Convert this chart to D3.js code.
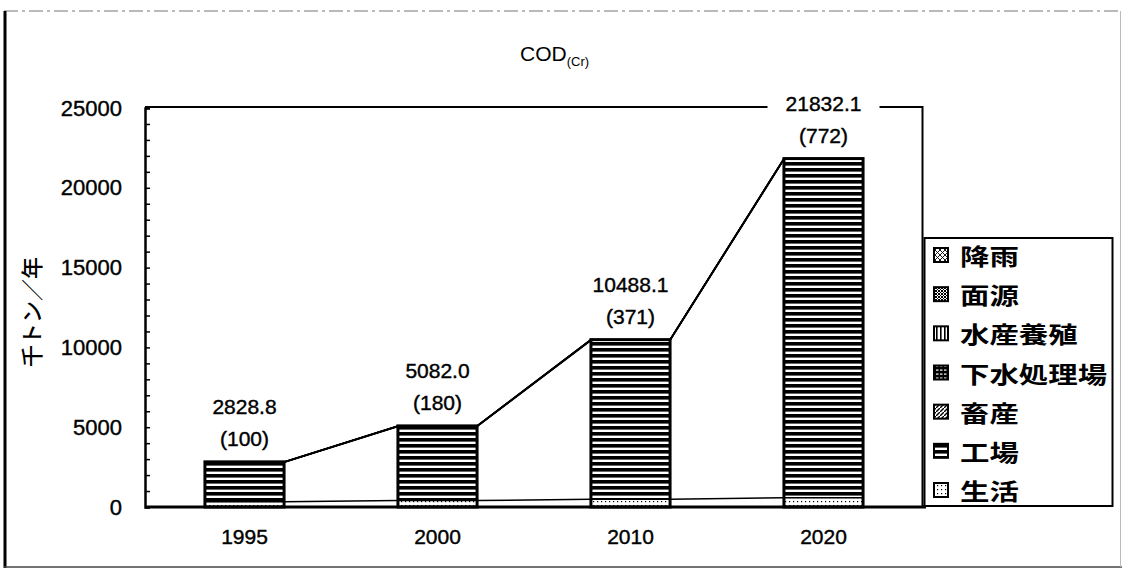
<!DOCTYPE html>
<html><head><meta charset="utf-8">
<script src="https://cdn.jsdelivr.net/npm/d3@7"></script>
<style>
html,body{margin:0;padding:0;background:#fff;}
svg{display:block;}
</style></head>
<body>
<svg id="c" width="1122" height="578"></svg>
<script>
// ---- data ----
const years = ["1995", "2000", "2010", "2020"];
const totals = [2828.8, 5082.0, 10488.1, 21832.1];
const indexLabels = ["(100)", "(180)", "(371)", "(772)"];
// legend order (top to bottom)
const legendNames = ["降雨", "面源", "水産養殖", "下水処理場", "畜産", "工場", "生活"];
// series values (thousand tonnes / year)
const seikatsu = [330, 400, 480, 580];          // 生活
const kojo = [2466.8, 4644.0, 9962.1, 21198.1];  // 工場
const chikusan = [10, 12, 15, 18];               // 畜産
const gesui = [5, 8, 12, 16];                    // 下水処理場
const suisan = [3, 4, 5, 6];                     // 水産養殖
const mengen = [8, 8, 8, 8];                     // 面源
const kou = [6, 6, 6, 6];                        // 降雨
const yTicks = [0, 5000, 10000, 15000, 20000, 25000];

const stackOrder = ["生活", "工場", "畜産", "下水処理場", "水産養殖", "面源", "降雨"];
const seriesMap = {"生活": seikatsu, "工場": kojo, "畜産": chikusan, "下水処理場": gesui,
  "水産養殖": suisan, "面源": mengen, "降雨": kou};
const rows = years.map((y, i) => {
  const r = {year: y};
  stackOrder.forEach(k => r[k] = seriesMap[k][i]);
  return r;
});

const svg = d3.select("#c");
const defs = svg.append("defs");
const NUM = "'Liberation Sans', Arial, sans-serif";
const JP = "'Noto Sans CJK JP', sans-serif";

// ---- patterns ----
function pat(id, w, h, draw) {
  const p = defs.append("pattern").attr("id", id).attr("patternUnits", "userSpaceOnUse")
    .attr("width", w).attr("height", h);
  p.append("rect").attr("width", w).attr("height", h).attr("fill", "#fff");
  draw(p);
}
pat("p-kojo", 8, 6, p => p.append("rect").attr("width", 8).attr("height", 3.6).attr("fill", "#000"));
pat("p-seikatsu", 4, 4, p => p.append("rect").attr("x", 1).attr("y", 1).attr("width", 1.2).attr("height", 1.2).attr("fill", "#000"));
pat("p-chikusan", 4, 4, p => p.append("path").attr("d", "M0,4 L4,0").attr("stroke", "#000").attr("stroke-width", 1.4));
pat("p-gesui", 4, 4, p => { p.select("rect").attr("fill", "#000"); p.append("rect").attr("x", 0).attr("y", 1.5).attr("width", 2.5).attr("height", 1.2).attr("fill", "#fff"); });
pat("p-suisan", 4, 4, p => p.append("rect").attr("width", 1.6).attr("height", 4).attr("fill", "#000"));
pat("p-mengen", 3, 3, p => { p.append("path").attr("d", "M0,3 L3,0 M0,0 L3,3").attr("stroke", "#000").attr("stroke-width", 1); });
pat("p-kou", 5, 5, p => p.append("path").attr("d", "M0,5 L5,0 M0,0 L5,5").attr("stroke", "#000").attr("stroke-width", 0.9));
const fills = {"生活": "url(#p-seikatsu)", "工場": "url(#p-kojo)", "畜産": "url(#p-chikusan)",
  "下水処理場": "url(#p-gesui)", "水産養殖": "url(#p-suisan)", "面源": "url(#p-mengen)", "降雨": "url(#p-kou)"};

// ---- outer figure frame ----
svg.append("line").attr("x1", 4).attr("x2", 1120).attr("y1", 11).attr("y2", 11)
  .attr("stroke", "#777").attr("stroke-width", 1).attr("stroke-dasharray", "14,4,3,4");
svg.append("line").attr("x1", 5).attr("x2", 5).attr("y1", 11).attr("y2", 568)
  .attr("stroke", "#000").attr("stroke-width", 3);
svg.append("line").attr("x1", 4).attr("x2", 1122).attr("y1", 567).attr("y2", 567)
  .attr("stroke", "#444").attr("stroke-width", 1.5);
svg.append("line").attr("x1", 1120.5).attr("x2", 1120.5).attr("y1", 11).attr("y2", 567)
  .attr("stroke", "#bbb").attr("stroke-width", 1);

// ---- scales ----
const x = d3.scaleBand().domain(years).range([148, 920]).paddingInner(0.59).paddingOuter(0.295);
const y = d3.scaleLinear().domain([0, 25000]).range([507, 108]);
const plotL = 145, plotR = 922.5, plotT = 107;

// ---- plot frame ----
svg.append("path").attr("d", `M${plotL},${plotT} L${plotR},${plotT} L${plotR},${y(0)}`)
  .attr("fill", "none").attr("stroke", "#000").attr("stroke-width", 2);

// ---- stacked bars ----
const stack = d3.stack().keys(stackOrder)(rows);
const gBars = svg.append("g");
stack.forEach(layer => {
  gBars.selectAll(null).data(layer).join("rect")
    .attr("x", d => x(d.data.year))
    .attr("width", x.bandwidth())
    .attr("y", d => y(d[1]))
    .attr("height", d => Math.max(0, y(d[0]) - y(d[1])))
    .attr("fill", fills[layer.key]);
});
// bar outlines
gBars.selectAll(null).data(rows).join("rect")
  .attr("x", d => x(d.year)).attr("width", x.bandwidth())
  .attr("y", (d, i) => y(totals[i])).attr("height", (d, i) => y(0) - y(totals[i]))
  .attr("fill", "none").attr("stroke", "#000").attr("stroke-width", 3);
// 生活 boundary
gBars.selectAll(null).data(rows).join("line")
  .attr("x1", d => x(d.year)).attr("x2", d => x(d.year) + x.bandwidth())
  .attr("y1", d => y(d["生活"])).attr("y2", d => y(d["生活"]))
  .attr("stroke", "#000").attr("stroke-width", 1.5);

// ---- series lines ----
const gSer = svg.append("g");
stack.forEach(layer => {
  for (let i = 0; i < layer.length - 1; i++) {
    gSer.append("line")
      .attr("x1", x(years[i]) + x.bandwidth()).attr("y1", y(layer[i][1]))
      .attr("x2", x(years[i + 1])).attr("y2", y(layer[i + 1][1]))
      .attr("stroke", "#000").attr("stroke-width", 1.5);
  }
});

// ---- axes ----
const yAxis = d3.axisLeft(y).tickValues(d3.range(0, 25001, 1000)).tickSize(-5).tickPadding(23)
  .tickFormat(d => yTicks.includes(d) ? String(d) : "");
const gy = svg.append("g").attr("transform", `translate(${plotL},0)`).call(yAxis);
gy.select(".domain").attr("stroke", "#000").attr("stroke-width", 2.5);
gy.selectAll(".tick line").attr("stroke", "#000").attr("stroke-width", 1.5);
gy.selectAll(".tick text").attr("font-family", NUM).attr("font-size", 22).attr("fill", "#000")
  .attr("stroke", "#000").attr("stroke-width", 0.4);

svg.append("line").attr("x1", plotL).attr("x2", 926).attr("y1", y(0)).attr("y2", y(0))
  .attr("stroke", "#000").attr("stroke-width", 3);

const xAxis = d3.axisBottom(x).tickSize(0).tickPadding(22);
const gx = svg.append("g").attr("transform", `translate(0,${y(0)})`).call(xAxis);
gx.select(".domain").remove();
gx.selectAll(".tick text").attr("font-family", NUM).attr("font-size", 21).attr("fill", "#000")
  .attr("stroke", "#000").attr("stroke-width", 0.4);

// ---- value labels ----
const gLab = svg.append("g").attr("font-family", NUM).attr("font-size", 21).attr("fill", "#000")
  .attr("text-anchor", "middle");
years.forEach((yr, i) => {
  const cx = x(yr) + x.bandwidth() / 2;
  if (i === years.length - 1) {
    gLab.append("rect").attr("x", cx - 56).attr("y", y(totals[i]) - 70).attr("width", 112).attr("height", 26).attr("fill", "#fff");
  }
  gLab.append("text").attr("x", cx).attr("y", y(totals[i]) - 55).attr("dy", "0.35em")
    .attr("stroke", "#000").attr("stroke-width", 0.4).text(totals[i].toFixed(1));
  gLab.append("text").attr("x", cx).attr("y", y(totals[i]) - 23).attr("dy", "0.35em")
    .attr("stroke", "#000").attr("stroke-width", 0.4).text(indexLabels[i]);
});

// ---- title ----
const title = svg.append("text").attr("x", 520).attr("y", 61).attr("font-family", NUM).attr("fill", "#000");
title.append("tspan").attr("font-size", 21).text("COD");
title.append("tspan").attr("font-size", 13).attr("dy", 5).text("(Cr)");

// ---- y axis title ----
svg.append("text").attr("transform", "translate(34,312) rotate(-90)")
  .attr("text-anchor", "middle").attr("dominant-baseline", "middle")
  .attr("font-family", JP).attr("font-size", 22).attr("font-weight", 500).attr("fill", "#000")
  .text("千トン／年");

// ---- legend ----
const lg = svg.append("g");
lg.append("rect").attr("x", 924.5).attr("y", 238).attr("width", 188).attr("height", 268)
  .attr("fill", "#fff").attr("stroke", "#000").attr("stroke-width", 2);
const legY = d3.scalePoint().domain(legendNames).range([255, 490]);
legendNames.forEach(n => {
  const cy = legY(n);
  lg.append("rect").attr("x", 934).attr("y", cy - 7).attr("width", 14).attr("height", 14)
    .attr("fill", fills[n]).attr("stroke", "#000").attr("stroke-width", 2);
  lg.append("text").attr("transform", `translate(960,${cy}) scale(1.28,1)`)
    .attr("dominant-baseline", "central")
    .attr("font-family", JP).attr("font-size", 23).attr("font-weight", 700).attr("fill", "#000")
    .text(n);
});
</script>
</body></html>
